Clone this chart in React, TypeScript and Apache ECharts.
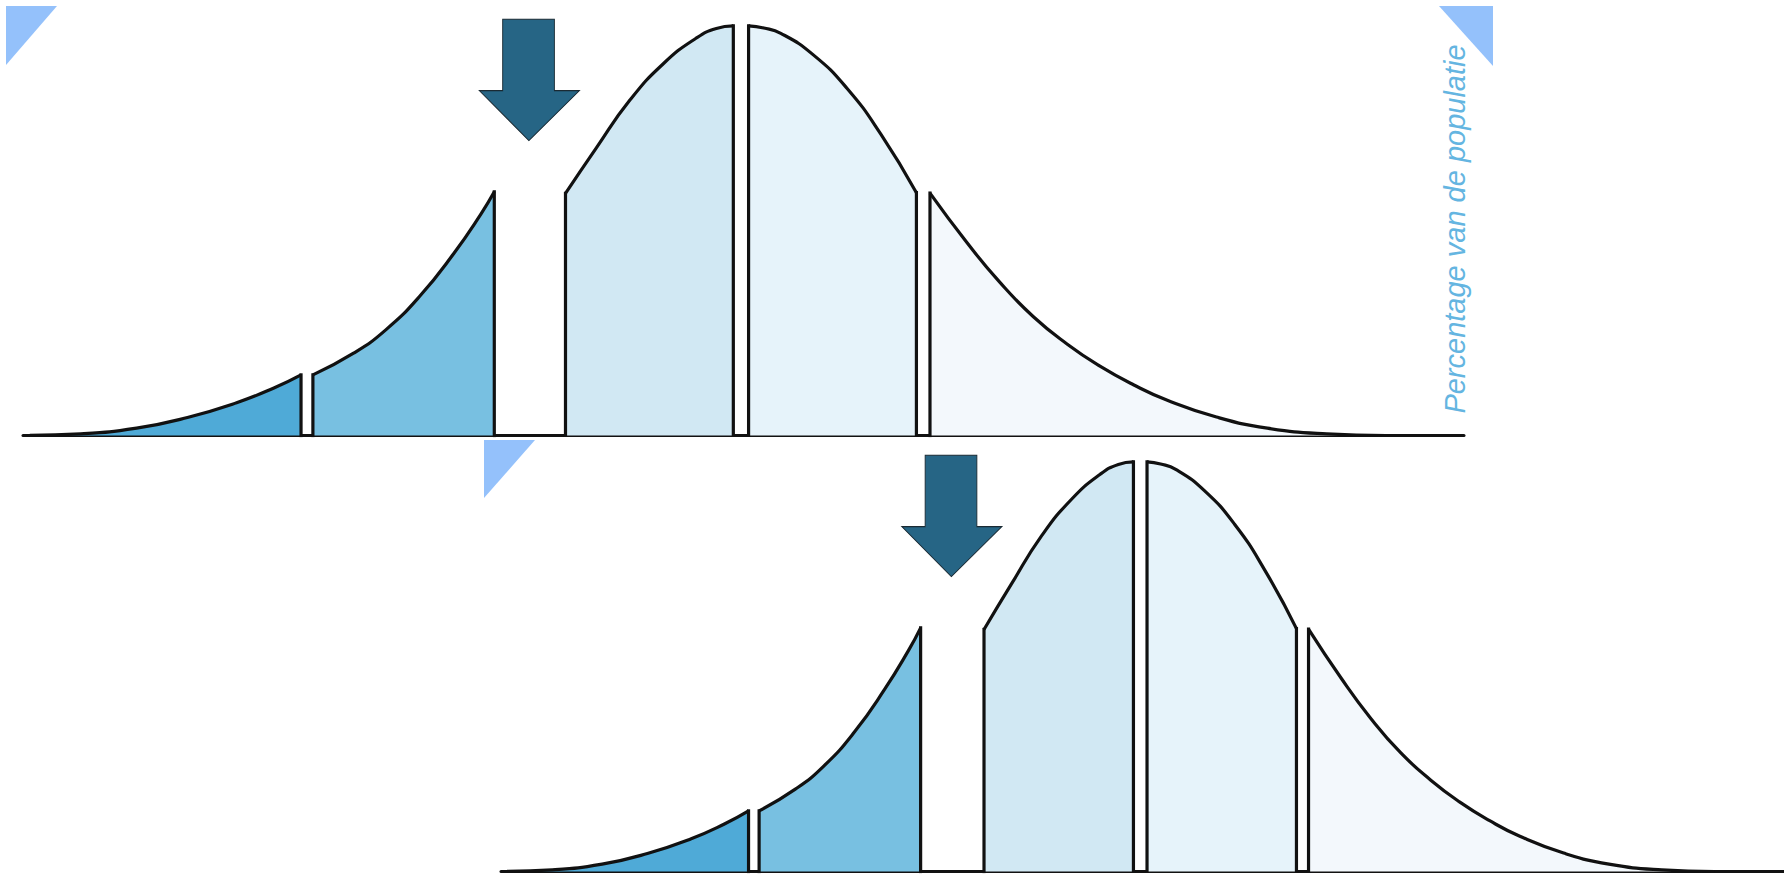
import React, { useEffect, useRef } from "react";
import * as echarts from "echarts";

// ---- Data (x in standard deviations along the drawn axis, y in % of peak height) ----
const segmentNames = ["< -2σ", "-2σ … -1σ", "-1σ … 0", "0 … +1σ", "> +1σ"];
const seg1X = [-4.2, -3.9, -3.57, -3.27, -2.98, -2.76, -2.6];
const seg1Y = [0.05, 0.4, 1.8, 4.4, 8.0, 11.6, 14.8];
const seg2X = [-2.53, -2.29, -2.1, -1.9, -1.7, -1.54, -1.46];
const seg2Y = [14.8, 20.1, 25.8, 34.0, 44.4, 54.0, 59.5];
const seg3X = [-1.04, -0.86, -0.66, -0.46, -0.27, -0.15, -0.05];
const seg3Y = [59.1, 70.1, 81.9, 90.9, 97.0, 99.4, 100];
const seg4X = [0.04, 0.13, 0.23, 0.42, 0.62, 0.82, 1.03];
const seg4Y = [100, 99.5, 98.2, 93.0, 84.8, 73.6, 59.3];
const seg5X = [1.11, 1.33, 1.52, 1.72, 1.92, 2.11, 2.31, 2.51, 2.8, 3.1, 3.45, 3.8];
const seg5Y = [59.2, 47.0, 37.5, 29.0, 22.3, 17.0, 12.4, 8.6, 4.5, 1.8, 0.4, 0];
const arrowX = -1.253; // gap the arrow points at
const arrowTipY = 72;
const axisMinX = -4.24;
const axisMaxX = 4.26;
const axisMaxY = 106;
const yLabel = "Percentage van de populatie";

// ---- Styles / layout ----
const W = 1784;
const H = 875;
const segColors = ["#4faad7", "#78c0e1", "#d1e8f3", "#e6f3fa", "#f3f8fc"];
const outline = "#111111";
const panels = [
  { left: 23, top: 1.4 },
  { left: 501, top: 437.4 },
];
const panelW = 1441;
const panelH = 434.1;

const segX = [seg1X, seg2X, seg3X, seg4X, seg5X];
const segY = [seg1Y, seg2Y, seg3Y, seg4Y, seg5Y];

function buildOption() {
  const grid = panels.map((p) => ({ left: p.left, top: p.top, width: panelW, height: panelH }));
  const xAxis = panels.map((_, i) => ({
    type: "value",
    gridIndex: i,
    min: axisMinX,
    max: axisMaxX,
    axisLine: { show: true, onZero: true, lineStyle: { color: outline, width: 3 } },
    axisTick: { show: false },
    axisLabel: { show: false },
    splitLine: { show: false },
  }));
  const yAxis = panels.map((_, i) => ({
    type: "value",
    gridIndex: i,
    min: 0,
    max: axisMaxY,
    show: false,
    splitLine: { show: false },
  }));

  const series: any[] = [];
  panels.forEach((_, g) => {
    segX.forEach((xs, s) => {
      const ys = segY[s];
      series.push({
        type: "line",
        name: segmentNames[s],
        xAxisIndex: g,
        yAxisIndex: g,
        data: xs.map((x, k) => [x, ys[k]]),
        smooth: 0.5,
        showSymbol: false,
        symbol: "none",
        clip: false,
        silent: true,
        lineStyle: { color: outline, width: 3.2 },
        areaStyle: { color: segColors[s], opacity: 1 },
        z: 2,
      });
      const edges: number[][][] = [];
      if (s > 0) edges.push([[xs[0], 0], [xs[0], ys[0]]]);
      if (s < segX.length - 1) {
        const n = xs.length - 1;
        edges.push([[xs[n], ys[n]], [xs[n], 0]]);
      }
      edges.forEach((e) =>
        series.push({
          type: "line",
          xAxisIndex: g,
          yAxisIndex: g,
          data: e,
          symbol: "none",
          showSymbol: false,
          clip: false,
          silent: true,
          lineStyle: { color: outline, width: 3.2, cap: "square" },
          z: 3,
        })
      );
    });
    series.push({
      type: "scatter",
      xAxisIndex: g,
      yAxisIndex: g,
      data: [[arrowX, arrowTipY]],
      symbol: "path://M23.3,0L75,0L75,71.4L100,71.4L49.5,121.4L0,71.4L23.3,71.4Z",
      symbolSize: [100, 121.4],
      symbolOffset: [0, "-50%"],
      silent: true,
      clip: false,
      itemStyle: { color: "#266585", borderColor: "#1a2a33", borderWidth: 1, opacity: 1 },
      z: 4,
    });
  });

  const tri = "#94c1fb";
  const graphic = [
    { type: "polygon", shape: { points: [[6, 6], [57, 6], [6, 65]] }, style: { fill: tri }, silent: true },
    { type: "polygon", shape: { points: [[1439, 6], [1493, 6], [1493, 66]] }, style: { fill: tri }, silent: true },
    { type: "polygon", shape: { points: [[484, 440], [535, 440], [484, 498]] }, style: { fill: tri }, silent: true },
    {
      type: "text",
      x: 1455,
      y: 229,
      rotation: Math.PI / 2,
      silent: true,
      style: {
        text: yLabel,
        fill: "#64b5e1",
        fontSize: 29,
        fontStyle: "italic",
        fontFamily: '"Liberation Sans", Arial, sans-serif',
        align: "center",
        verticalAlign: "middle",
      },
    },
  ];

  return {
    animation: false,
    backgroundColor: "#ffffff",
    grid,
    xAxis,
    yAxis,
    series,
    graphic,
  };
}

export default function App() {
  const ref = useRef<HTMLDivElement>(null);
  useEffect(() => {
    document.body.style.margin = "0";
    const chart = echarts.init(ref.current as HTMLDivElement, null, { renderer: "svg", width: W, height: H });
    chart.setOption(buildOption() as any);
    return () => chart.dispose();
  }, []);
  return <div ref={ref} style={{ width: W, height: H, position: "absolute", left: 0, top: 0 }} />;
}
